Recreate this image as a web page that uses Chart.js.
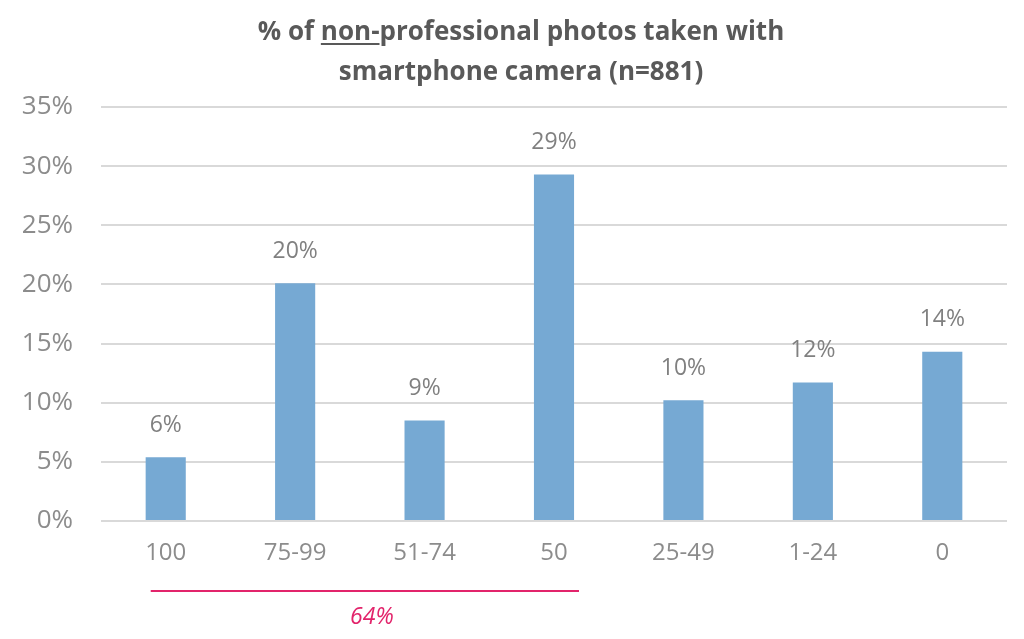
<!DOCTYPE html>
<html>
<head>
<meta charset="utf-8">
<script src="https://cdn.jsdelivr.net/npm/chart.js@4"></script>
<style>
    html, body { margin: 0; padding: 0; background: #ffffff; }
    #wrap { position: relative; width: 1024px; height: 639px; }
    #title {
        position: absolute; left: 0; top: 10px; width: 1042px;
        text-align: center; font-family: "Open Sans", sans-serif;
        font-weight: 700; font-size: 26px; line-height: 40px; color: #595959;
    }
    #title u { text-decoration-thickness: 2px; text-underline-offset: 3px; }
</style>
</head>
<body>
<div id="wrap">
    <canvas id="photosChart" width="1024" height="639"></canvas>
    <div id="title">% of <u>non-</u>professional photos taken with<br>smartphone camera (n=881)</div>
</div>
<script>
// Données du graphique
const categories = ['100', '75-99', '51-74', '50', '25-49', '1-24', '0'];
const shareValues = [5.4, 20.1, 8.5, 29.3, 10.2, 11.7, 14.3];
const shareLabels = ['6%', '20%', '9%', '29%', '10%', '12%', '14%'];
const yTicks = [0, 5, 10, 15, 20, 25, 30, 35];

// Accolade sous les catégories 100 -> 50
const bracketFrom = 0;
const bracketTo = 3;
const bracketLabel = '64%';

const GRAY = '#8c8c8c';

// Étiquettes au-dessus des barres
const barLabelsPlugin = {
    id: 'barLabels',
    afterDatasetsDraw(chart) {
        const ctx = chart.ctx;
        const meta = chart.getDatasetMeta(0);
        ctx.save();
        ctx.font = '23px "Open Sans", sans-serif';
        ctx.fillStyle = '#808080';
        ctx.textAlign = 'center';
        ctx.textBaseline = 'middle';
        meta.data.forEach((bar, i) => {
            ctx.fillText(shareLabels[i], bar.x, bar.y - 32);
        });
        ctx.restore();
    }
};

// Ligne rose + total
const bracketPlugin = {
    id: 'bracket',
    afterDraw(chart) {
        const ctx = chart.ctx;
        const x = chart.scales.x;
        const x1 = x.getPixelForValue(bracketFrom) - 15;
        const x2 = x.getPixelForValue(bracketTo) + 25;
        const y = chart.chartArea.bottom + 70;
        ctx.save();
        ctx.strokeStyle = '#e2246b';
        ctx.lineWidth = 2;
        ctx.beginPath();
        ctx.moveTo(x1, y);
        ctx.lineTo(x2, y);
        ctx.stroke();
        ctx.font = 'italic 23px "Open Sans", sans-serif';
        ctx.fillStyle = '#e2246b';
        ctx.textAlign = 'center';
        ctx.textBaseline = 'middle';
        ctx.fillText(bracketLabel, (x1 + x2) / 2 + 7, y + 26);
        ctx.restore();
    }
};

new Chart(document.getElementById('photosChart'), {
    type: 'bar',
    data: {
        labels: categories,
        datasets: [{
            data: shareValues,
            backgroundColor: '#76a9d3',
            borderWidth: 0,
            categoryPercentage: 1,
            barPercentage: 0.31
        }]
    },
    options: {
        responsive: false,
        animation: false,
        layout: { padding: { top: 107, right: 17, bottom: 0, left: 0 } },
        plugins: {
            legend: { display: false },
            title: { display: false },
            tooltip: { enabled: false }
        },
        scales: {
            x: {
                grid: { display: false },
                border: { display: false },
                ticks: {
                    color: GRAY,
                    font: { family: 'Open Sans', size: 24 },
                    padding: 10
                },
                afterFit(scale) { scale.height = 118; }
            },
            y: {
                min: 0,
                max: 35,
                afterBuildTicks(scale) {
                    scale.ticks = yTicks.map(v => ({ value: v }));
                },
                grid: { color: '#d9d9d9', lineWidth: 2, drawTicks: false },
                border: { display: false },
                ticks: {
                    color: GRAY,
                    font: { family: 'Open Sans', size: 26 },
                    padding: 28,
                    callback: v => v + '%'
                },
                afterFit(scale) { scale.width = 101; }
            }
        }
    },
    plugins: [barLabelsPlugin, bracketPlugin]
});
</script>
</body>
</html>
